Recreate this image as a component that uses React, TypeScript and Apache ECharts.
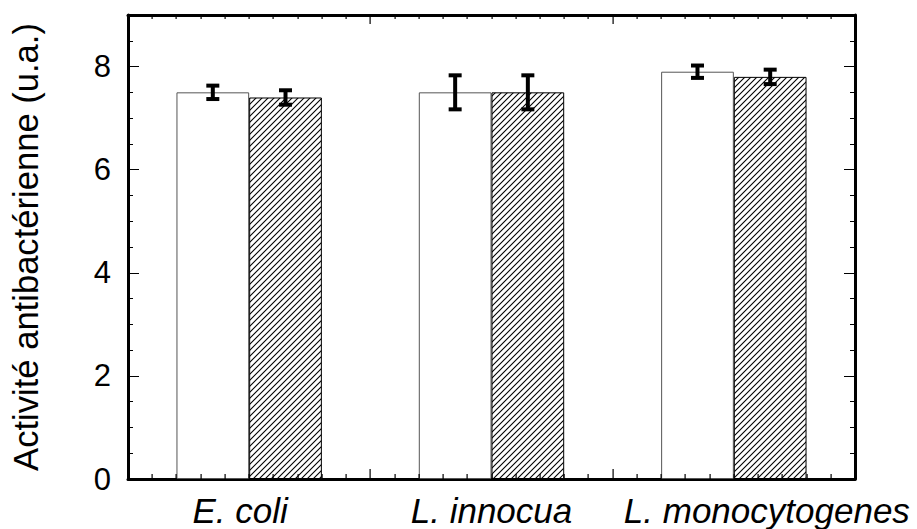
import React, { useEffect, useRef } from 'react';
import * as echarts from 'echarts';

// ---- Data ----
const categories = ['E. coli', 'L. innocua', 'L. monocytogenes'];
const plainValues = [7.5, 7.5, 7.9];
const plainErrors = [0.13, 0.33, 0.12];
const hatchedValues = [7.4, 7.5, 7.8];
const hatchedErrors = [0.14, 0.33, 0.14];
const yTickLabels = ['0', '2', '4', '6', '8'];
const yTitle = 'Activité antibactérienne (u.a.)';
// x tick marks on a 0..30 frame scale (10 units per category band; major every 10, minor every 1)
const xTickMajor = [10, 20];
const xTickMinor = [1, 2, 3, 4, 5, 6, 7, 8, 9, 11, 12, 13, 14, 15, 16, 17, 18, 19, 21, 22, 23, 24, 25, 26, 27, 28, 29];

const FONT = '"Liberation Sans", Arial, Helvetica, sans-serif';
const Y_MIN = 0;
const Y_MAX = 9;
const X_UNITS_PER_BAND = 10;

function makeHatch(size: number) {
  const c = document.createElement('canvas');
  c.width = size;
  c.height = size;
  const ctx = c.getContext('2d')!;
  ctx.fillStyle = '#ffffff';
  ctx.fillRect(0, 0, size, size);
  ctx.strokeStyle = '#000000';
  ctx.lineWidth = 1.1;
  ctx.beginPath();
  ctx.moveTo(-1, size + 1);
  ctx.lineTo(size + 1, -1);
  ctx.moveTo(-1, 1);
  ctx.lineTo(1, -1);
  ctx.moveTo(size - 1, size + 1);
  ctx.lineTo(size + 1, size - 1);
  ctx.stroke();
  return c;
}

export default function App() {
  const ref = useRef<HTMLDivElement>(null);

  useEffect(() => {
    if (!ref.current) return;
    const chart = echarts.init(ref.current, undefined, { renderer: 'svg' });
    const hatch = makeHatch(6);

    const errorData: number[][] = [];
    categories.forEach((_, i) => {
      errorData.push([i, plainValues[i] - plainErrors[i], plainValues[i] + plainErrors[i], 0]);
      errorData.push([i, hatchedValues[i] - hatchedErrors[i], hatchedValues[i] + hatchedErrors[i], 1]);
    });
    // [category anchor, y lo, y hi, x position on 0..30 scale, major flag]
    const xTickData: number[][] = [
      ...xTickMajor.map((v) => [0, Y_MIN, Y_MAX, v, 1]),
      ...xTickMinor.map((v) => [0, Y_MIN, Y_MAX, v, 0]),
    ];

    const lineStyle = { color: '#000', width: 3 };
    const tickStyle = { color: '#000', width: 1 };
    const labelRich: any = {
      l0: { fontFamily: FONT, fontSize: 35, fontStyle: 'italic', color: '#000', padding: [0, 18, 0, 0] },
      l1: { fontFamily: FONT, fontSize: 35, fontStyle: 'italic', color: '#000' },
      l2: { fontFamily: FONT, fontSize: 35, fontStyle: 'italic', color: '#000', padding: [0, 0, 0, 66] },
    };
    const gridRect = { left: 128, top: 15, right: 62, bottom: 50, containLabel: false };

    const tickAxisY = (gridIndex: number, position: 'left' | 'right', showLine: boolean, interval: number, len: number) => ({
      type: 'value',
      gridIndex,
      min: Y_MIN,
      max: Y_MAX,
      interval,
      position,
      axisLine: { show: showLine, onZero: false, lineStyle },
      axisLabel: { show: false },
      splitLine: { show: false },
      axisTick: { show: true, inside: true, length: len, lineStyle: tickStyle },
    });

    chart.setOption({
      animation: false,
      backgroundColor: '#ffffff',
      grid: [gridRect, gridRect, gridRect],
      xAxis: [
        {
          type: 'category',
          gridIndex: 0,
          data: categories,
          position: 'bottom',
          boundaryGap: true,
          axisLine: { show: true, onZero: false, lineStyle },
          axisTick: { show: false },
          splitLine: { show: false },
          axisLabel: {
            interval: 0,
            hideOverlap: false,
            margin: 14,
            fontFamily: FONT,
            fontSize: 35,
            fontStyle: 'italic',
            color: '#000',
            formatter: (v: string, i: number) => `{l${i}|${v}}`,
            rich: labelRich,
          },
        },
        {
          type: 'value',
          gridIndex: 1,
          min: 0,
          max: 30,
          position: 'top',
          axisLine: { show: true, onZero: false, lineStyle },
          axisTick: { show: false },
          axisLabel: { show: false },
          splitLine: { show: false },
        },
        {
          type: 'value',
          gridIndex: 2,
          min: 0,
          max: 30,
          show: false,
        },
      ],
      yAxis: [
        {
          type: 'value',
          gridIndex: 0,
          min: Y_MIN,
          max: Y_MAX,
          interval: 2,
          position: 'left',
          name: yTitle,
          nameLocation: 'middle',
          nameGap: 85,
          nameTextStyle: { fontFamily: FONT, fontSize: 34.6, color: '#000' },
          axisLine: { show: true, onZero: false, lineStyle },
          axisTick: { show: true, inside: true, length: 11, lineStyle: tickStyle },
          splitLine: { show: false },
          axisLabel: {
            margin: 17,
            fontFamily: FONT,
            fontSize: 31,
            color: '#000',
            formatter: (v: number) => (yTickLabels.indexOf(String(v)) >= 0 ? String(v) : ''),
          },
        },
        tickAxisY(1, 'left', false, 0.5, 5),
        tickAxisY(1, 'right', true, 2, 11),
        tickAxisY(2, 'right', false, 0.5, 5),
      ],
      series: [
        {
          type: 'bar',
          xAxisIndex: 0,
          yAxisIndex: 0,
          data: plainValues,
          barWidth: '30%',
          barGap: '0%',
          itemStyle: { color: '#ffffff', borderColor: '#555555', borderWidth: 1 },
          z: 2,
        },
        {
          type: 'bar',
          xAxisIndex: 0,
          yAxisIndex: 0,
          data: hatchedValues,
          barWidth: '30%',
          barGap: '0%',
          itemStyle: {
            color: { image: hatch, repeat: 'repeat', imageWidth: 6, imageHeight: 6 } as any,
            borderColor: '#000000',
            borderWidth: 1,
          },
          z: 2,
        },
        {
          type: 'custom',
          xAxisIndex: 0,
          yAxisIndex: 0,
          data: errorData,
          encode: { x: 0, y: [1, 2] },
          z: 10,
          renderItem: (_params: any, api: any) => {
            const cat = api.value(0);
            const side = api.value(3);
            const band = api.size([1, 0])[0];
            const dx = (side === 0 ? -0.15 : 0.15) * band;
            const hi = api.coord([cat, api.value(2)]);
            const lo = api.coord([cat, api.value(1)]);
            const x = hi[0] + dx;
            const cap = 6.5;
            const style = { stroke: '#000', lineWidth: 4, fill: null };
            return {
              type: 'group',
              children: [
                { type: 'line', shape: { x1: x, y1: hi[1], x2: x, y2: lo[1] }, style },
                { type: 'line', shape: { x1: x - cap, y1: hi[1], x2: x + cap, y2: hi[1] }, style },
                { type: 'line', shape: { x1: x - cap, y1: lo[1], x2: x + cap, y2: lo[1] }, style },
              ],
            };
          },
        },
        {
          // inward tick marks along the bottom and top frame edges, placed through the category band scale
          type: 'custom',
          xAxisIndex: 0,
          yAxisIndex: 0,
          data: xTickData,
          encode: { x: 0, y: [1, 2] },
          z: 11,
          renderItem: (_params: any, api: any) => {
            const v = api.value(3);
            const major = api.value(4) === 1;
            const band = api.size([1, 0])[0];
            const bottomPt = api.coord([0, api.value(1)]);
            const topPt = api.coord([0, api.value(2)]);
            const x = Math.round(bottomPt[0] + (v / X_UNITS_PER_BAND - 0.5) * band);
            const lenB = major ? 10 : 5;
            const lenT = major ? 9 : 4;
            const style = { fill: '#000', stroke: null };
            return {
              type: 'group',
              children: [
                { type: 'rect', shape: { x: x - 0.5, y: bottomPt[1] - lenB, width: 1.2, height: lenB }, style },
                { type: 'rect', shape: { x: x - 0.5, y: topPt[1], width: 1.2, height: lenT }, style },
              ],
            };
          },
        },
      ],
    });

    return () => chart.dispose();
  }, []);

  return (
    <div
      ref={ref}
      style={{ position: 'fixed', left: 0, top: 0, width: 917, height: 529, background: '#fff' }}
    />
  );
}
